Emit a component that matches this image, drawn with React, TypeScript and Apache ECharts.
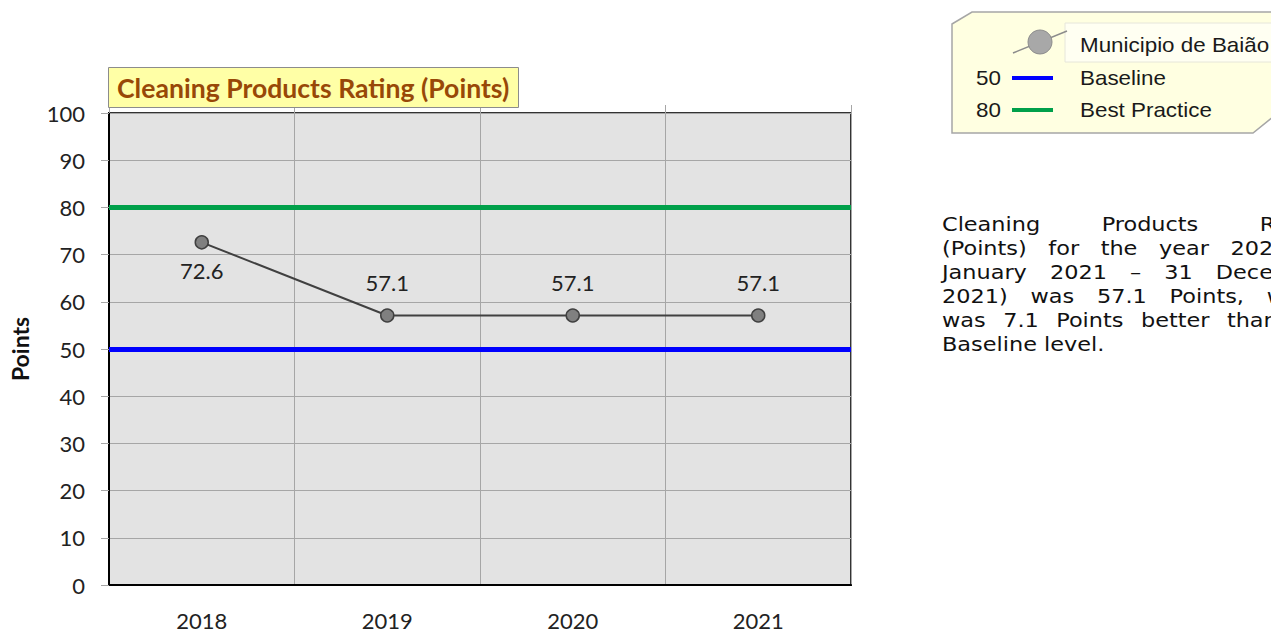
import React, { useEffect, useRef } from "react";
import * as echarts from "echarts";

// Chart data
const years = ["2018", "2019", "2020", "2021"];
const ratingPoints = [72.6, 57.1, 57.1, 57.1];
const labelSides = ["bottom", "top", "top", "top"];

const seriesName = "Municipio de Baião";
const baselineName = "Baseline";
const baselineValue = 50;
const bestPracticeName = "Best Practice";
const bestPracticeValue = 80;

const chartTitle = "Cleaning Products Rating (Points)";
const yAxisTitle = "Points";
const yMin = 0;
const yMax = 100;
const yStep = 10;

// Justified summary paragraph, one entry per line (last line left aligned)
const summaryLines = [
  "Cleaning Products Rating",
  "(Points) for the year 2021 (1",
  "January 2021 \u2013 31 December",
  "2021) was 57.1 Points, which",
  "was 7.1 Points better than the",
  "Baseline level.",
];

const SIDE_FONT = "'Liberation Sans', Arial, sans-serif";
const PARA_FONT = "'DejaVu Sans', Verdana, sans-serif";
const AXIS_FONT = "Lato, 'Open Sans', sans-serif";
const STRETCH = 1.12;

function buildParagraph(): any[] {
  const canvas = document.createElement("canvas");
  const ctx = canvas.getContext("2d")!;
  const size = 20;
  ctx.font = `${size}px 'DejaVu Sans'`;
  const left = 942;
  const width = 390;
  const top = 224;
  const lineH = 24;
  const out: any[] = [];
  summaryLines.forEach((line, i) => {
    const words = line.split(" ");
    const widths = words.map((w) => ctx.measureText(w).width * STRETCH);
    const total = widths.reduce((a, b) => a + b, 0);
    const isLast = i === summaryLines.length - 1;
    const gap = isLast || words.length < 2
      ? ctx.measureText(" ").width * STRETCH
      : (width - total) / (words.length - 1);
    let x = left;
    words.forEach((w, j) => {
      out.push({
        type: "text",
        x,
        y: top + i * lineH,
        scaleX: STRETCH,
        silent: true,
        style: {
          text: w,
          fontSize: size,
          fontFamily: PARA_FONT,
          fill: "#111",
          textAlign: "left",
          textVerticalAlign: "middle",
        },
      });
      x += widths[j] + gap;
    });
  });
  return out;
}

function buildLegend(): any[] {
  const textStyle = (text: string, align = "left") => ({
    text,
    fontSize: 20,
    fontFamily: SIDE_FONT,
    fill: "#1a1a1a",
    textAlign: align,
    textVerticalAlign: "middle",
  });
  return [
    {
      type: "polygon",
      silent: true,
      shape: {
        points: [
          [952, 24],
          [972, 12],
          [1295, 12],
          [1295, 99],
          [1253, 133],
          [952, 133],
        ],
      },
      style: { fill: "#FFFFE1", stroke: "#A6A6A6", lineWidth: 1.5 },
    },
    {
      type: "rect",
      silent: true,
      shape: { x: 1065, y: 23, width: 240, height: 39 },
      style: { fill: "#FFFFF2", stroke: "#E6E6DA", lineWidth: 1 },
    },
    {
      type: "line",
      silent: true,
      shape: { x1: 1013, y1: 53, x2: 1067, y2: 31 },
      style: { stroke: "#8C8C8C", lineWidth: 1.5 },
    },
    {
      type: "circle",
      silent: true,
      shape: { cx: 1040, cy: 42, r: 12 },
      style: { fill: "#A8A8A8", stroke: "#8C8C8C", lineWidth: 1 },
    },
    { type: "text", x: 1080, y: 45, scaleX: STRETCH, silent: true, style: textStyle(seriesName) },
    { type: "text", x: 1001, y: 78, scaleX: STRETCH, silent: true, style: textStyle(String(baselineValue), "right") },
    {
      type: "line",
      silent: true,
      shape: { x1: 1012, y1: 78, x2: 1053, y2: 78 },
      style: { stroke: "#0000FF", lineWidth: 4 },
    },
    { type: "text", x: 1080, y: 78, scaleX: STRETCH, silent: true, style: textStyle(baselineName) },
    { type: "text", x: 1001, y: 110, scaleX: STRETCH, silent: true, style: textStyle(String(bestPracticeValue), "right") },
    {
      type: "line",
      silent: true,
      shape: { x1: 1012, y1: 110, x2: 1053, y2: 110 },
      style: { stroke: "#00A04A", lineWidth: 4 },
    },
    { type: "text", x: 1080, y: 110, scaleX: STRETCH, silent: true, style: textStyle(bestPracticeName) },
  ];
}

export default function App() {
  const ref = useRef<HTMLDivElement>(null);

  useEffect(() => {
    if (!ref.current) return;
    const chart = echarts.init(ref.current, undefined, { renderer: "svg" });

    const option: any = {
      animation: false,
      backgroundColor: "#ffffff",
      title: {
        text: chartTitle,
        left: 108,
        top: 67,
        padding: [6, 9, 6, 9],
        backgroundColor: "#FFFFA6",
        borderColor: "#8C8C8C",
        borderWidth: 1,
        textStyle: {
          fontFamily: AXIS_FONT,
          fontSize: 26.6,
          fontWeight: "bold",
          color: "#984807",
          lineHeight: 29,
        },
        z: 10,
      },
      grid: {
        left: 108,
        right: 420,
        top: 113,
        bottom: 45,
        show: true,
        backgroundColor: "#E3E3E3",
        borderColor: "#333333",
        borderWidth: 2,
      },
      xAxis: [
        {
          type: "category",
          data: years,
          boundaryGap: true,
          position: "bottom",
          axisLine: { show: true, lineStyle: { color: "#000", width: 2 } },
          axisTick: { show: false },
          axisLabel: {
            margin: 24,
            fontFamily: AXIS_FONT,
            fontSize: 22,
            color: "#222",
          },
          splitLine: { show: true, lineStyle: { color: "#A6A6A6", width: 1 } },
        },
        {
          type: "category",
          data: years,
          boundaryGap: true,
          position: "top",
          axisLine: { show: false },
          axisTick: { show: true, length: 8, lineStyle: { color: "#A6A6A6" } },
          axisLabel: { show: false },
          splitLine: { show: false },
        },
      ],
      yAxis: {
        type: "value",
        min: yMin,
        max: yMax,
        interval: yStep,
        name: yAxisTitle,
        nameLocation: "middle",
        nameGap: 78,
        nameRotate: 90,
        nameTextStyle: {
          fontFamily: AXIS_FONT,
          fontSize: 23,
          fontWeight: "bold",
          color: "#111",
        },
        axisLine: { show: true, lineStyle: { color: "#000", width: 2 } },
        axisTick: { show: true, length: 8, lineStyle: { color: "#A6A6A6" } },
        axisLabel: {
          margin: 24,
          fontFamily: AXIS_FONT,
          fontSize: 22,
          color: "#222",
        },
        splitLine: { show: true, lineStyle: { color: "#A6A6A6", width: 1 } },
      },
      series: [
        {
          name: seriesName,
          type: "line",
          xAxisIndex: 0,
          data: ratingPoints.map((v, i) => ({
            value: v,
            label: {
              position: labelSides[i],
              distance: labelSides[i] === "top" ? 15 : 10,
            },
          })),
          symbol: "circle",
          symbolSize: 13,
          lineStyle: { color: "#404040", width: 2 },
          itemStyle: { color: "#808080", borderColor: "#404040", borderWidth: 1.5 },
          label: {
            show: true,
            fontFamily: AXIS_FONT,
            fontSize: 22,
            color: "#222",
            formatter: (p: any) => p.value.toFixed(1),
          },
          z: 5,
          markLine: {
            silent: true,
            symbol: "none",
            label: { show: false },
            data: [
              { yAxis: baselineValue, lineStyle: { color: "#0000FF", width: 5, type: "solid" } },
              { yAxis: bestPracticeValue, lineStyle: { color: "#00A04A", width: 5, type: "solid" } },
            ],
            z: 3,
          },
        },
      ],
      graphic: [...buildLegend(), ...buildParagraph()],
    };

    chart.setOption(option);
    return () => chart.dispose();
  }, []);

  return (
    <div
      ref={ref}
      style={{ position: "fixed", left: 0, top: 0, width: 1271, height: 631 }}
    />
  );
}
